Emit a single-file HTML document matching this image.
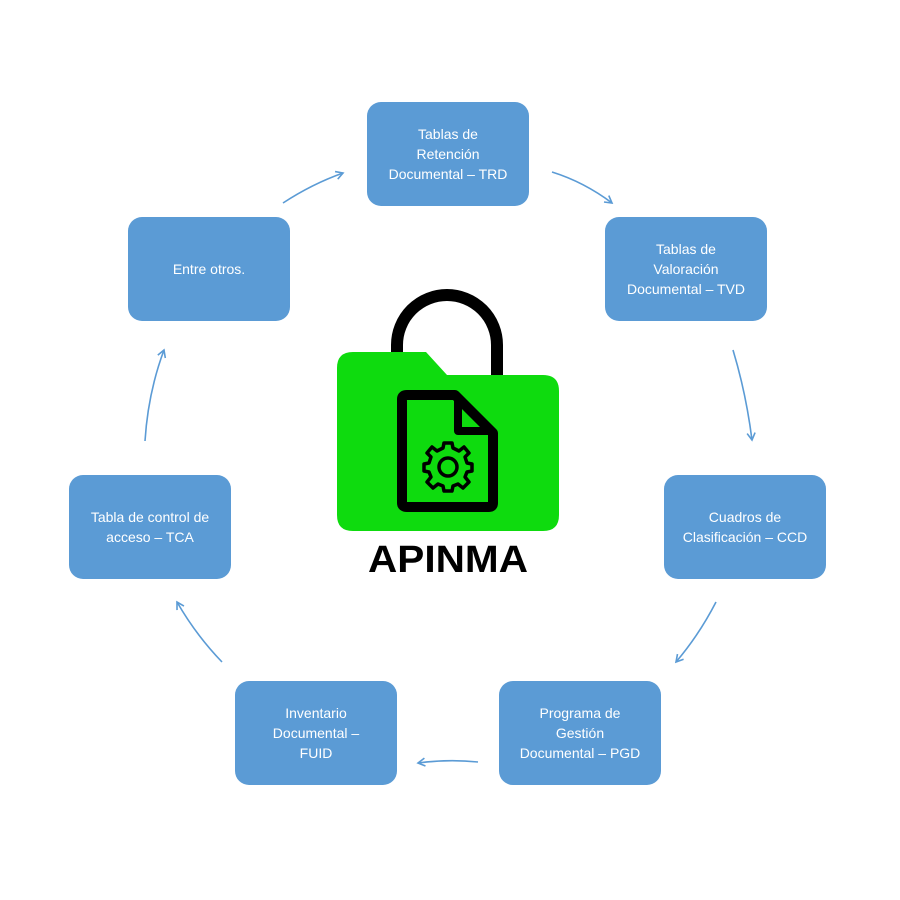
<!DOCTYPE html>
<html><head><meta charset="utf-8"><style>
body{margin:0;background:#fff;width:900px;height:900px;position:relative;overflow:hidden;font-family:"Liberation Sans",sans-serif}
.b{position:absolute;width:162px;height:104px;background:#5b9bd5;border-radius:14px;color:#fff;font-size:14px;line-height:20px;display:flex;align-items:center;justify-content:center;text-align:center;box-sizing:border-box;padding:0 8px}
</style></head><body>
<div class="b" style="left:367px;top:102px">Tablas de<br>Retención<br>Documental – TRD</div>
<div class="b" style="left:605px;top:217px">Tablas de<br>Valoración<br>Documental – TVD</div>
<div class="b" style="left:664px;top:475px">Cuadros de<br>Clasificación – CCD</div>
<div class="b" style="left:499px;top:681px">Programa de<br>Gestión<br>Documental – PGD</div>
<div class="b" style="left:235px;top:681px">Inventario<br>Documental –<br>FUID</div>
<div class="b" style="left:69px;top:475px">Tabla de control de<br>acceso – TCA</div>
<div class="b" style="left:128px;top:217px">Entre otros.</div>
<svg width="900" height="900" style="position:absolute;left:0;top:0">
<defs><marker id="a" markerWidth="10" markerHeight="10" refX="8" refY="5" orient="auto" markerUnits="userSpaceOnUse"><path d="M1,1 L8,5 L1,9" fill="none" stroke="#5b9bd5" stroke-width="1.6"/></marker></defs>
<g fill="none" stroke="#5b9bd5" stroke-width="1.6" marker-end="url(#a)">
<path d="M283,203 Q312,184 343,173"/>
<path d="M552,172 Q584,182 612,203"/>
<path d="M733,350 Q746,393 752,440"/>
<path d="M716,602 Q699,635 676,662"/>
<path d="M478,762 Q448,759 418,763"/>
<path d="M222,662 Q196,635 177,602"/>
<path d="M145,441 Q148,393 164,350"/>
</g>
<path d="M397,370 V345 A50,50 0 0 1 497,345 V375" fill="none" stroke="#000" stroke-width="12"/>
<path d="M353,352 H426 L447,375 H543 Q559,375 559,391 V515 Q559,531 543,531 H353 Q337,531 337,515 V368 Q337,352 353,352 Z" fill="#0edb0e"/>
<path d="M407,395 H455 L493,433 V503 Q493,507 489,507 H407 Q402,507 402,503 V399 Q402,395 407,395 Z" fill="none" stroke="#000" stroke-width="10" stroke-linejoin="round"/>
<path d="M458,397 V431 H491" fill="none" stroke="#000" stroke-width="8" stroke-linejoin="round"/>
<g transform="translate(448,467)" fill="none" stroke="#000" stroke-width="3.5">
<circle r="9"/>
<path d="M-4,-24 L4,-24 L5,-19 L11,-16 L16,-20 L21,-14 L17,-10 L19,-4 L24,-3 L24,4 L19,5 L17,10 L21,15 L15,21 L10,17 L5,19 L4,24 L-4,24 L-5,19 L-10,17 L-15,21 L-21,15 L-17,10 L-19,5 L-24,4 L-24,-3 L-19,-4 L-17,-10 L-21,-14 L-16,-20 L-11,-16 L-5,-19 Z" stroke-linejoin="round"/>
</g>
<text x="448" y="572" text-anchor="middle" font-family="Liberation Sans,sans-serif" font-weight="bold" font-size="38" fill="#000" textLength="160" lengthAdjust="spacingAndGlyphs">APINMA</text>
</svg>
</body></html>
